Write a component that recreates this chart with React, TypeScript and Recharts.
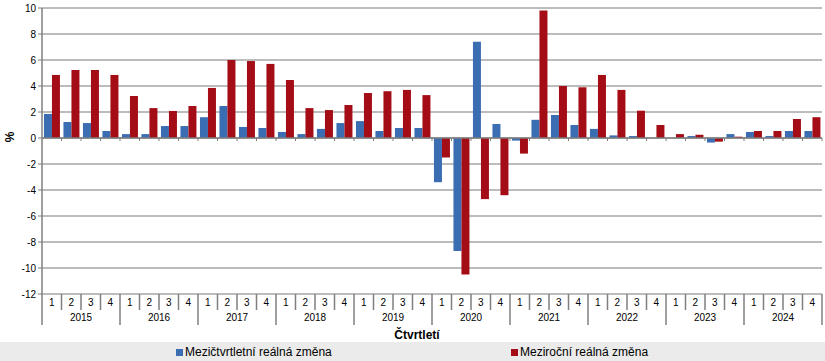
import { BarChart, Bar, XAxis, YAxis, CartesianGrid, ReferenceLine, Legend } from 'recharts'

const years = ['2015', '2016', '2017', '2018', '2019', '2020', '2021', '2022', '2023', '2024']
const quarters = ['1', '2', '3', '4']
const yTicks = [-12, -10, -8, -6, -4, -2, 0, 2, 4, 6, 8, 10]

// mezičtvrtletní změna (modrá)
const qoq = [
  1.85, 1.23, 1.15, 0.54,
  0.3, 0.3, 0.92, 0.92,
  1.6, 2.46, 0.85, 0.77,
  0.46, 0.3, 0.7, 1.15,
  1.3, 0.54, 0.77, 0.77,
  -3.4, -8.7, 7.4, 1.08,
  -0.2, 1.4, 1.77, 1.0,
  0.7, 0.2, 0.15, 0.0,
  0.0, 0.15, -0.35, 0.3,
  0.46, 0.15, 0.54, 0.54,
]

// meziroční změna (červená)
const yoy = [
  4.85, 5.23, 5.23, 4.85,
  3.23, 2.3, 2.08, 2.46,
  3.85, 6.0, 5.92, 5.7,
  4.46, 2.3, 2.15, 2.54,
  3.46, 3.6, 3.7, 3.3,
  -1.5, -10.5, -4.7, -4.4,
  -1.2, 9.8, 4.0, 3.9,
  4.85, 3.7, 2.1, 1.0,
  0.3, 0.25, -0.28, 0.1,
  0.54, 0.54, 1.46, 1.6,
]

const data = years.flatMap((y, yi) =>
  quarters.map((q, qi) => ({
    key: `${y}-${q}`,
    year: y,
    q,
    qoq: qoq[yi * 4 + qi],
    yoy: yoy[yi * 4 + qi],
  }))
)

const W = 825
const H = 361
const LEFT = 42
const RIGHT = 3
const BW = (W - LEFT - RIGHT) / data.length
const BLUE = '#3b6db3'
const RED = '#a50d16'
const AXIS = '#7f7f7f'
const FONT = 'Arial, "Liberation Sans", sans-serif'

function QuarterTick({ x, y, payload, index }: any) {
  const d = data[index]
  const left = x - BW / 2
  const isFirst = d?.q === '1'
  return (
    <g>
      <line x1={left} x2={left} y1={y} y2={y + (isFirst ? 31 : 16)} stroke={AXIS} strokeWidth={1.5} />
      {index === data.length - 1 && (
        <line x1={x + BW / 2} x2={x + BW / 2} y1={y} y2={y + 31} stroke={AXIS} strokeWidth={1.5} />
      )}
      <text x={x} y={y + 12} textAnchor="middle" fontSize={10} fill="#000" fontFamily={FONT}>
        {d ? d.q : payload.value}
      </text>
    </g>
  )
}

function YearTick({ x, y, index }: any) {
  const d = data[index]
  if (!d || d.q !== '2') return null
  return (
    <text x={x + BW / 2} y={y + 11} textAnchor="middle" fontSize={10} fill="#000" fontFamily={FONT}>
      {d.year}
    </text>
  )
}

function ZeroLine(props: any) {
  const { x1, y1, x2, y2 } = props
  const step = (x2 - x1) / data.length
  return (
    <g>
      <line x1={x1} x2={x2} y1={y1} y2={y2} stroke={AXIS} strokeWidth={1.5} />
      {data.map((_, i) => (
        <line key={i} x1={x1 + step * (i + 1)} x2={x1 + step * (i + 1)} y1={y1} y2={y1 + 3} stroke={AXIS} strokeWidth={1} />
      ))}
    </g>
  )
}

function PercentLabel({ viewBox }: any) {
  const x = viewBox.x + 10
  const y = viewBox.y + viewBox.height / 2 - 14
  return (
    <text
      x={x}
      y={y}
      transform={`rotate(-90, ${x}, ${y})`}
      textAnchor="middle"
      dominantBaseline="central"
      fontFamily={FONT}
      fontSize={12}
      fontWeight="bold"
      fill="#000"
    >
      %
    </text>
  )
}

function LegendBox() {
  return (
    <div style={{ position: 'relative', width: W, height: 19, background: '#ebebeb', fontFamily: FONT, fontSize: 12, color: '#000' }}>
      <div style={{ position: 'absolute', left: 176, top: 3, display: 'flex', alignItems: 'center' }}>
        <span style={{ width: 7, height: 7, background: BLUE, marginRight: 2, display: 'inline-block' }} />
        Mezičtvrtletní reálná změna
      </div>
      <div style={{ position: 'absolute', left: 511, top: 3, display: 'flex', alignItems: 'center' }}>
        <span style={{ width: 7, height: 7, background: RED, marginRight: 2, display: 'inline-block' }} />
        Meziroční reálná změna
      </div>
    </div>
  )
}

export default function App() {
  return (
    <div style={{ position: 'absolute', left: 0, top: 0, width: W, height: H, background: '#fff' }}>
      <BarChart
        width={W}
        height={H}
        data={data}
        margin={{ top: 8, right: RIGHT, left: 0, bottom: 0 }}
        barCategoryGap="10%"
        barGap={0}
      >
        <CartesianGrid vertical={false} stroke="#a6a6a6" strokeWidth={1.5} />
        <XAxis
          dataKey="key"
          interval={0}
          height={16}
          tickSize={0}
          tickMargin={0}
          axisLine={false}
          tickLine={false}
          tick={<QuarterTick />}
        />
        <XAxis
          xAxisId="year"
          dataKey="key"
          interval={0}
          height={32}
          tickSize={0}
          tickMargin={0}
          axisLine={false}
          tickLine={false}
          tick={<YearTick />}
          label={{
            value: 'Čtvrtletí',
            position: 'insideBottom',
            offset: 3,
            dx: -15,
            style: { fontFamily: FONT, fontSize: 12, fontWeight: 'bold', fill: '#000' },
          }}
        />
        <YAxis
          domain={[-12, 10]}
          ticks={yTicks}
          interval={0}
          width={LEFT}
          tickSize={4}
          tickMargin={2}
          stroke={AXIS}
          axisLine={{ stroke: AXIS, strokeWidth: 1.5 }}
          tickLine={{ stroke: AXIS, strokeWidth: 1 }}
          tick={{ fontSize: 10, fill: '#000', fontFamily: FONT }}
          label={<PercentLabel />}
        />
        <YAxis
          yAxisId="right"
          orientation="right"
          width={0}
          tick={false}
          tickLine={false}
          axisLine={{ stroke: '#a6a6a6', strokeWidth: 1.5 }}
        />
        <ReferenceLine y={0} shape={<ZeroLine />} />
        <Bar dataKey="qoq" fill={BLUE} isAnimationActive={false} />
        <Bar dataKey="yoy" fill={RED} isAnimationActive={false} />
        <Legend
          verticalAlign="bottom"
          height={19}
          content={<LegendBox />}
          wrapperStyle={{ left: 0, bottom: 0, width: W, height: 19 }}
        />
      </BarChart>
    </div>
  )
}
